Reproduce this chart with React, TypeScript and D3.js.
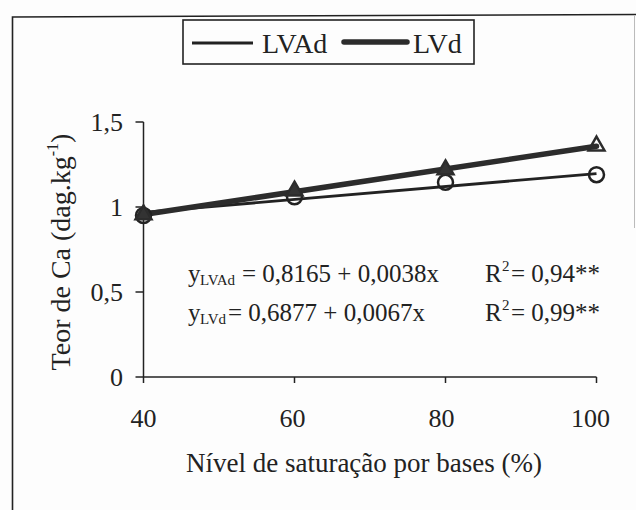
import React from "react";
import * as d3 from "d3";

const xTicks = [40, 60, 80, 100];
const yTicks = [0, 0.5, 1, 1.5];
const yTickLabels = ["0", "0,5", "1", "1,5"];
const seriesNames = ["LVAd", "LVd"];
const lvadValues = [0.95, 1.06, 1.145, 1.19];
const lvdValues = [0.955, 1.095, 1.22, 1.36];
const intercepts = [0.8165, 0.6877];
const slopes = [0.0038, 0.0067];
const eqTexts = ["= 0,8165 + 0,0038x", "= 0,6877 + 0,0067x"];
const r2Texts = ["= 0,94**", "= 0,99**"];
const xTitle = "Nível de saturação por bases (%)";

const FONT = '"Liberation Serif", "Times New Roman", Tinos, "DejaVu Serif", serif';
const INK = "#222";

export default function App() {
  const W = 636, H = 510;
  const x = d3.scaleLinear().domain([40, 100]).range([143.5, 596.5]);
  const y = d3.scaleLinear().domain([0, 1.5]).range([377, 122]);
  const line = d3.line<number>().x((d) => x(d[0])).y((d) => y(d[1]));

  const reg = (i: number) =>
    line([[40, intercepts[i] + slopes[i] * 40], [100, intercepts[i] + slopes[i] * 100]] as any);

  const tri = d3.symbol().type(d3.symbolTriangle).size(110)();
  const ts = { fontFamily: FONT, fill: INK } as React.CSSProperties;

  return (
    <svg width={W} height={H} style={{ position: "absolute", left: 0, top: 0, background: "#fff", fontFamily: FONT }}>
      <rect x={0} y={0} width={W} height={H} fill="#fdfdfd" />
      {/* outer frame */}
      <path d="M12.5,510 L12.5,17 L636,14.5" fill="none" stroke={INK} strokeWidth={1.6} />
      <path d="M634.5,16 L634.5,228" fill="none" stroke="#bbb" strokeWidth={1} />

      {/* legend */}
      <rect x={183} y={20} width={291} height={44} fill="none" stroke={INK} strokeWidth={1.6} />
      <line x1={192} x2={253} y1={43} y2={43} stroke={INK} strokeWidth={2.8} />
      <text x={262} y={53} fontSize={28} style={ts}>{seriesNames[0]}</text>
      <line x1={344} x2={407} y1={42} y2={42} stroke="#2c2c2c" strokeWidth={5.5} strokeLinecap="round" />
      <text x={413} y={53} fontSize={28} style={ts}>{seriesNames[1]}</text>

      {/* axes */}
      <line x1={x(40)} x2={x(40)} y1={y(1.5)} y2={y(0)} stroke={INK} strokeWidth={1.5} />
      <line x1={x(40)} x2={x(100)} y1={y(0)} y2={y(0)} stroke={INK} strokeWidth={1.5} />
      {yTicks.map((t, i) => (
        <g key={"yt" + i}>
          <line x1={x(40) - 8} x2={x(40)} y1={y(t)} y2={y(t)} stroke={INK} strokeWidth={1.5} />
          <text x={123} y={y(t) + 9} textAnchor="end" fontSize={26} style={ts}>
            {yTickLabels[i]}
          </text>
        </g>
      ))}
      {xTicks.map((t, i) => (
        <g key={"xt" + i}>
          <line x1={x(t)} x2={x(t)} y1={y(0)} y2={y(0) + 6} stroke={INK} strokeWidth={1.5} />
          <text x={x(t) - 2 * i} y={427} textAnchor="middle" fontSize={26} style={ts}>
            {t}
          </text>
        </g>
      ))}

      {/* axis titles */}
      <text x={364} y={472} textAnchor="middle" fontSize={27} style={ts}>{xTitle}</text>
      <text transform={`translate(70,252) rotate(-90)`} textAnchor="middle" fontSize={28} style={ts}>
        Teor de Ca (dag.kg<tspan fontSize={16} dy={-12}>-1</tspan><tspan dy={12}>)</tspan>
      </text>

      {/* regression lines */}
      <path d={reg(0) || ""} fill="none" stroke={INK} strokeWidth={2.8} />
      <path d={reg(1) || ""} fill="none" stroke="#2c2c2c" strokeWidth={5.5} strokeLinecap="round" />

      {/* markers */}
      {lvadValues.map((v, i) => (
        <circle key={"c" + i} cx={x(xTicks[i])} cy={y(v)} r={7.5} fill="none" stroke={INK} strokeWidth={2.5} />
      ))}
      {lvdValues.map((v, i) => (
        <path
          key={"t" + i}
          d={tri || ""}
          transform={`translate(${x(xTicks[i])},${y(v)})`}
          fill={i === 3 ? "none" : "#333"}
          stroke="#2c2c2c"
          strokeWidth={2.5}
        />
      ))}

      {/* equations */}
      {[0, 1].map((i) => {
        const by = i === 0 ? 282 : 321;
        const eqX = i === 0 ? 242 : 228;
        return (
          <g key={"eq" + i}>
            <text x={188} y={by} fontSize={25} style={ts}>y</text>
            <text x={200} y={by + 3} fontSize={15} style={ts}>{seriesNames[i]}</text>
            <text x={eqX} y={by} fontSize={25} style={ts}>{eqTexts[i]}</text>
            <text x={485} y={by} fontSize={25} style={ts}>R</text>
            <text x={502} y={by - 11} fontSize={15} style={ts}>2</text>
            <text x={511} y={by} fontSize={25} style={ts}>{r2Texts[i]}</text>
          </g>
        );
      })}
    </svg>
  );
}
